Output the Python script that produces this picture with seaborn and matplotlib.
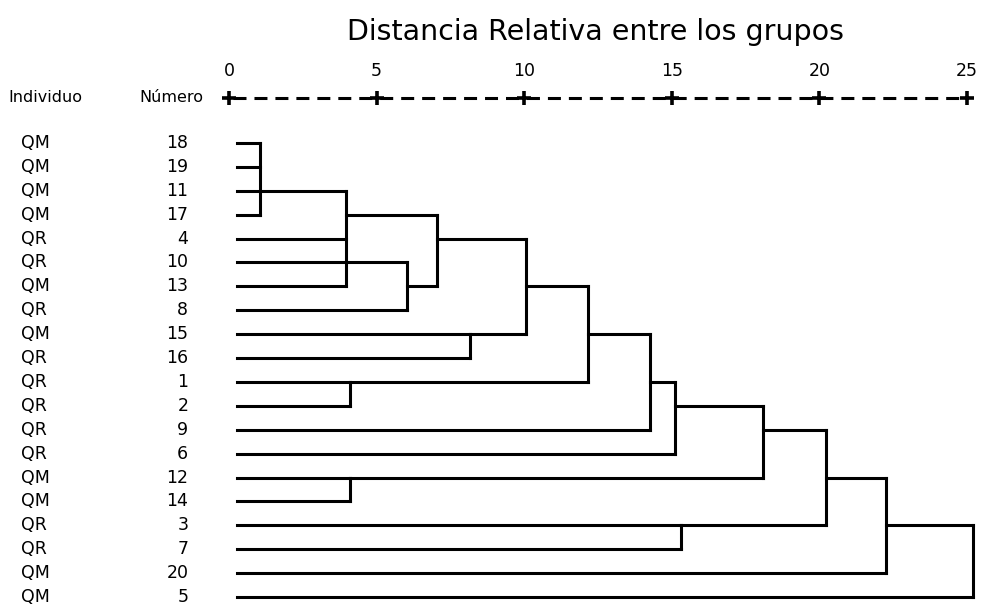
import matplotlib
matplotlib.use("Agg")
import matplotlib.pyplot as plt
import seaborn as sns
import pandas as pd

# ---------------- data ----------------
individuo = ["QM", "QM", "QM", "QM", "QR", "QR", "QM", "QR", "QM", "QR",
             "QR", "QR", "QR", "QR", "QM", "QM", "QR", "QR", "QM", "QM"]
numero = [18, 19, 11, 17, 4, 10, 13, 8, 15, 16, 1, 2, 9, 6, 12, 14, 3, 7, 20, 5]
tick_values = [0, 5, 10, 15, 20, 25]

merge_names = ["A", "B", "C", "D", "E", "F", "G", "H",
               "I", "J", "K", "L", "M", "N", "O", "P"]
merge_children = [[18, 19, 11, 17], ["A", 4, 13], [10, 8], ["B", "C"],
                  [15, 16], ["D", "E"], [1, 2], ["F", "G"],
                  ["H", 9], ["I", 6], [12, 14], ["J", "K"],
                  [3, 7], ["L", "M"], ["N", 20], ["O", 5]]
merge_dist = [1.05, 3.96, 6.03, 7.05, 8.17, 10.07, 4.10, 12.17,
              14.27, 15.10, 4.10, 18.10, 15.30, 20.24, 22.27, 25.20]
# row (leaf position) where each joined cluster's line leaves the junction
merge_row = [2, 3, 6, 4, 8, 6, 10, 8, 10, 11, 14, 12, 16, 14, 16, 17]

title = "Distancia Relativa entre los grupos"
head_ind = "Individuo"
head_num = "Número"

# ---------------- build segments ----------------
LEAF_X = 0.27
node = {}
for i, n in enumerate(numero):
    node[n] = (LEAF_X, i)

rows = []
seg = 0
for name, ch, d, r in zip(merge_names, merge_children, merge_dist, merge_row):
    ys = []
    for c in ch:
        cx, cy = node[c]
        rows += [(seg, cx, cy), (seg, d, cy)]
        seg += 1
        ys.append(cy)
    rows += [(seg, d, min(ys)), (seg, d, max(ys))]
    seg += 1
    node[name] = (d, r)

df = pd.DataFrame(rows, columns=["seg", "x", "y"])

# ---------------- figure ----------------
sns.set_theme(style="white")
plt.rcParams["font.family"] = ["DejaVu Sans"]

W, H = 981, 612
PX_PER_UNIT = 29.52
X0_PX = 229
ROW0_PX = 143
ROW_PX = 23.9

fig = plt.figure(figsize=(W / 100, H / 100), dpi=100)
ax = fig.add_axes([0, 0, 1, 1])
ax.set_xlim(-X0_PX / PX_PER_UNIT, (W - X0_PX) / PX_PER_UNIT)
ax.set_ylim((H - ROW0_PX) / ROW_PX, -ROW0_PX / ROW_PX)
ax.axis("off")

sns.lineplot(data=df, x="x", y="y", units="seg", estimator=None, sort=False,
             color="black", lw=2.2, ax=ax, legend=False,
             solid_capstyle="projecting")

# dashed scale line with + at ticks
axis_y = (98 - ROW0_PX) / ROW_PX
ax.plot([tick_values[0], tick_values[-1]], [axis_y, axis_y], color="black",
        lw=2.2, ls=(4.25 + 1.3, (4.25, 2.61)), solid_capstyle="butt",
        dash_capstyle="butt")
ax.plot(tick_values, [axis_y] * len(tick_values), ls="none", marker="+",
        ms=10, mew=2.6, color="black")
tick_y = (71 - ROW0_PX) / ROW_PX
for t in tick_values:
    ax.text(t, tick_y, str(t), ha="center", va="center", fontsize=12.5,
            color="black")

# headers
ax.text(-7.48, axis_y, head_ind, ha="left", va="center", fontsize=11.5,
        color="black")
ax.text(-0.88, axis_y, head_num, ha="right", va="center", fontsize=11.5,
        color="black")

# leaf labels
for i, (ind, num) in enumerate(zip(individuo, numero)):
    ax.text(-7.05, i, ind, ha="left", va="center", fontsize=12.5,
            color="black")
    ax.text(-1.38, i, str(num), ha="right", va="center", fontsize=12.5,
            color="black")

ax.text((596 - X0_PX) / PX_PER_UNIT, (32 - ROW0_PX) / ROW_PX, title,
        ha="center", va="center", fontsize=20.5, color="black")

fig.savefig("out.png", dpi=100, facecolor="white")
